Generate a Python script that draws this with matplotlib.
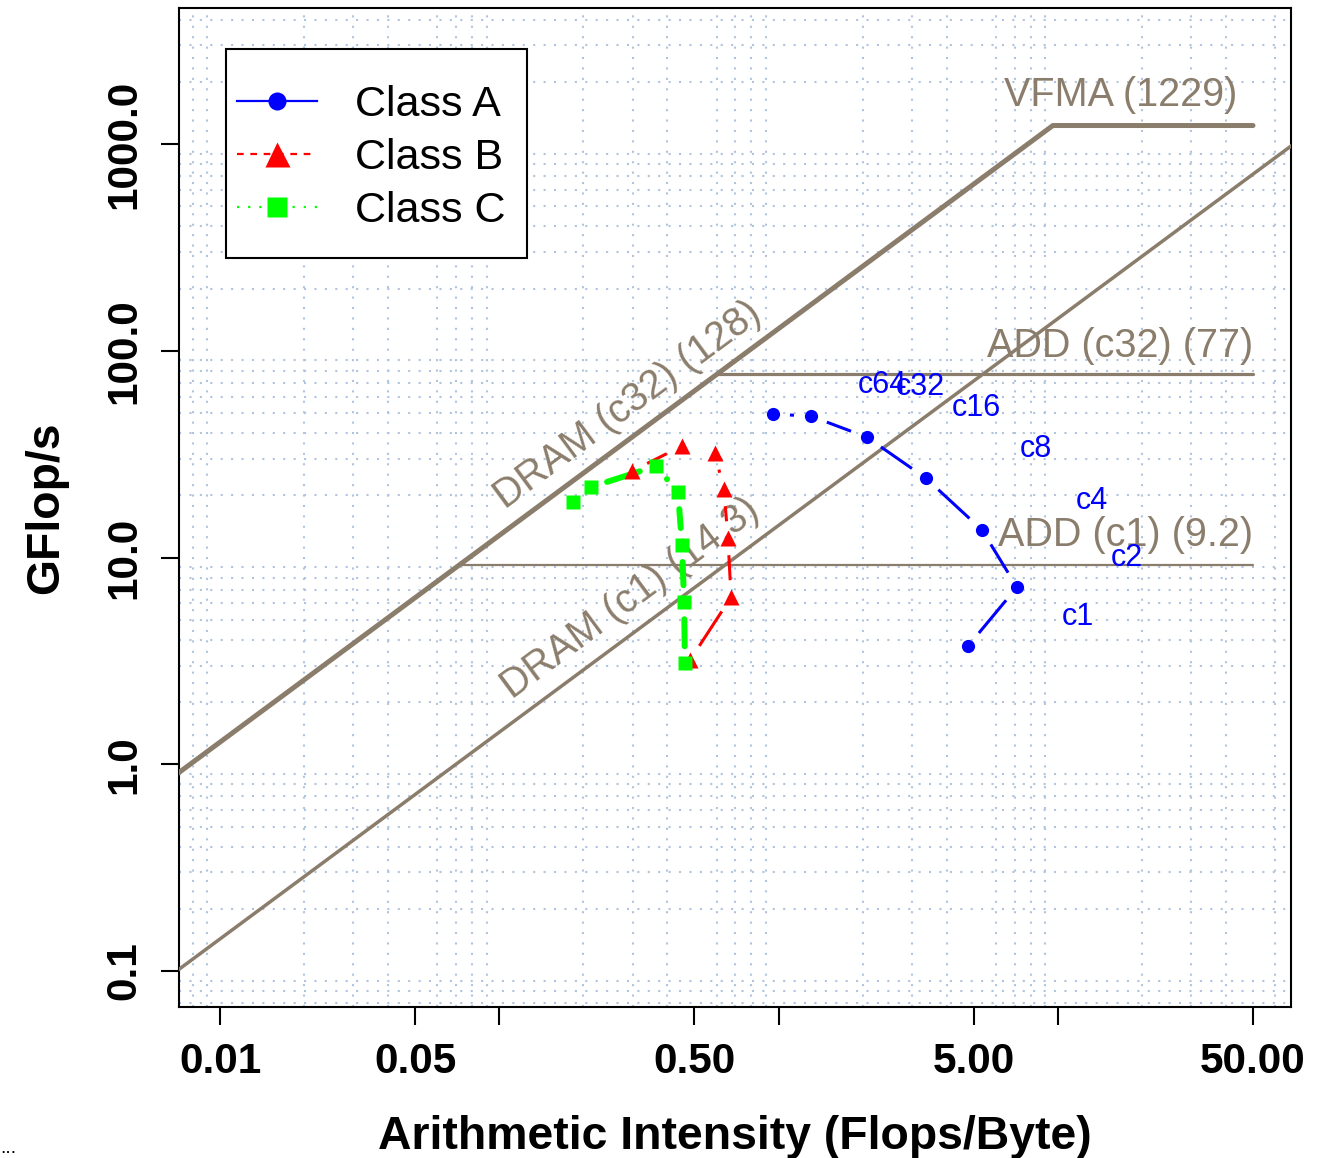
import numpy as np
import matplotlib
matplotlib.use("Agg")
import matplotlib.pyplot as plt
from matplotlib.lines import Line2D
from matplotlib.patches import Rectangle
from matplotlib.ticker import FixedLocator, FixedFormatter, LogLocator, NullFormatter

plt.rcParams['font.family'] = ['Liberation Sans', 'DejaVu Sans']

# ---------------- data ----------------
vfma_peak = 1229.0
add_c32_peak = 77.0
add_c1_peak = 9.2
dram_c32_bw = 128.0
dram_c1_bw = 14.3

classA_x = [0.955, 1.306, 2.073, 3.37, 5.35, 7.14, 4.77]
classA_y = [49.4, 48.3, 38.2, 24.2, 13.6, 7.19, 3.73]
classA_labels = ['c64', 'c32', 'c16', 'c8', 'c4', 'c2', 'c1']

classB_x = [0.2985, 0.451, 0.591, 0.637, 0.659, 0.676, 0.482]
classB_y = [26.2, 34.6, 32.0, 21.4, 12.4, 6.43, 3.19]

classC_x = [0.1837, 0.2128, 0.364, 0.4365, 0.451, 0.459, 0.462]
classC_y = [18.5, 21.9, 27.7, 20.7, 11.5, 6.08, 3.08]

x_ticks = [0.01, 0.05, 0.1, 0.5, 1, 5, 10, 50]
x_ticklabels = ['0.01', '0.05', '', '0.50', '', '5.00', '', '50.00']
y_ticks = [0.1, 1, 10, 100, 1000]
y_ticklabels = ['0.1', '1.0', '10.0', '100.0', '1000.0']

roof_color = '#8B7D6B'
grid_color = '#B0C4DE'

# ---------------- figure ----------------
fig = plt.figure(figsize=(13.4, 11.58), dpi=100)
ax = fig.add_axes([179/1340, 1-1007/1158, (1291-179)/1340, (1007-8)/1158])
ax.set_xscale('log')
ax.set_yscale('log')
ax.set_xlim(0.00713, 68.4)
ax.set_ylim(0.067, 4550)

# grid
ax.xaxis.set_minor_locator(LogLocator(base=10, subs=np.arange(1, 10)))
ax.yaxis.set_minor_locator(LogLocator(base=10, subs=np.arange(1, 10)))
ax.xaxis.set_minor_formatter(NullFormatter())
ax.yaxis.set_minor_formatter(NullFormatter())
ax.grid(True, which='minor', color=grid_color, linestyle=(0, (1, 4)), lw=1.5)
ax.grid(False, which='major')
ax.set_axisbelow(True)

ax.xaxis.set_major_locator(FixedLocator(x_ticks))
ax.xaxis.set_major_formatter(FixedFormatter(x_ticklabels))
ax.yaxis.set_major_locator(FixedLocator(y_ticks))
ax.yaxis.set_major_formatter(FixedFormatter(y_ticklabels))
ax.tick_params(which='major', length=13, width=1.5, direction='out', pad=12,
               labelsize=30.5)
ax.tick_params(which='minor', length=0)
for lab in ax.get_xticklabels() + ax.get_yticklabels():
    lab.set_fontweight('bold')
for lab in ax.get_yticklabels():
    lab.set_rotation(90)
    lab.set_va('center')
for sp in ax.spines.values():
    sp.set_linewidth(1.5)

# ---------------- rooflines ----------------
ridge_vfma = vfma_peak / dram_c32_bw
ax.plot([0.001, ridge_vfma, 50], [0.001*dram_c32_bw, vfma_peak, vfma_peak],
        color=roof_color, lw=3.6, solid_capstyle='round', solid_joinstyle='round', zorder=3)
ax.plot([0.001, 1000], [0.001*dram_c1_bw, 1000*dram_c1_bw],
        color=roof_color, lw=2.5, zorder=3)
ax.plot([add_c32_peak/dram_c32_bw, 50], [add_c32_peak, add_c32_peak],
        color=roof_color, lw=2.3, solid_capstyle='round', zorder=3)
ax.plot([add_c1_peak/dram_c32_bw, 50], [add_c1_peak, add_c1_peak],
        color=roof_color, lw=1.6, solid_capstyle='round', zorder=3)

roof_fs = 28.5
ax.annotate('VFMA (1229)', xy=(50, vfma_peak), xytext=(-11, 14), textcoords='offset points',
            ha='right', va='baseline', fontsize=roof_fs, color=roof_color)
ax.annotate('ADD (c32) (77)', xy=(50, add_c32_peak), xytext=(0, 12.5), textcoords='offset points',
            ha='right', va='baseline', fontsize=roof_fs, color=roof_color)
ax.annotate('ADD (c1) (9.2)', xy=(50, add_c1_peak), xytext=(0, 14), textcoords='offset points',
            ha='right', va='baseline', fontsize=roof_fs, color=roof_color)

# rotation angle of bandwidth lines in display space
p0 = ax.transData.transform((0.01, 0.01*dram_c1_bw))
p1 = ax.transData.transform((1.0, 1.0*dram_c1_bw))
ang = np.degrees(np.arctan2(p1[1]-p0[1], p1[0]-p0[0]))
ax.text(0.289, 54.6, 'DRAM (c32) (128)', rotation=ang, rotation_mode='anchor',
        ha='center', va='center', fontsize=roof_fs, color=roof_color)
ax.text(0.294, 6.36, 'DRAM (c1) (14.3)', rotation=ang, rotation_mode='anchor',
        ha='center', va='center', fontsize=roof_fs, color=roof_color)

# ---------------- measured series (R type="b": gaps around points) ----------------
def gapped_line(xs, ys, gap_px, **kw):
    pts = ax.transData.transform(np.column_stack([xs, ys]))
    inv = ax.transData.inverted()
    for a, b in zip(pts[:-1], pts[1:]):
        d = b - a
        L = np.hypot(*d)
        if L <= 2*gap_px:
            continue
        u = d / L
        s = inv.transform(np.vstack([a + u*gap_px, b - u*gap_px]))
        ax.plot(s[:, 0], s[:, 1], **kw)

gapped_line(classA_x, classA_y, 17, color='blue', lw=2.2, solid_capstyle='butt', zorder=4)
gapped_line(classB_x, classB_y, 17, color='red', lw=2.2, solid_capstyle='butt', zorder=4)
gapped_line(classC_x, classC_y, 17, color='#00FF00', lw=4.3, solid_capstyle='round', zorder=4)

ax.plot(classA_x, classA_y, 'o', color='blue', ms=9.5, mec='none', zorder=5)
ax.plot(classB_x, classB_y, '^', color='red', ms=12, mec='none', zorder=5)
ax.plot(classC_x, classC_y, 's', color='#00FF00', ms=10, mec='none', zorder=5)

for x, y, lab in zip(classA_x, classA_y, classA_labels):
    ax.annotate(lab, xy=(x, y), xytext=(79, 21), textcoords='offset points',
                ha='center', va='center', fontsize=22, color='blue', zorder=6)

# ---------------- legend ----------------
handles = [
    Line2D([], [], color='blue', lw=1.6, ls='-', marker='o', ms=13, mec='none'),
    Line2D([], [], color='red', lw=1.6, ls=(0, (3, 3)), marker='^', ms=18, mec='none'),
    Line2D([], [], color='#00FF00', lw=1.6, ls=(0, (1, 4)), marker='s', ms=14, mec='none'),
]
leg_box = Rectangle((0.04227, 0.7497), 0.3129-0.04227, 0.959-0.7497, transform=ax.transAxes,
                    facecolor='white', edgecolor='black', lw=1.5, zorder=9)
ax.add_patch(leg_box)
leg = ax.legend(handles, ['Class A', 'Class B', 'Class C'], loc='center left',
                bbox_to_anchor=(0.0522, 0.8499), fontsize=31, numpoints=1,
                handlelength=1.85, handletextpad=0.9, labelspacing=0.3,
                borderpad=0, borderaxespad=0, frameon=False)
leg.set_zorder(10)

# ---------------- labels ----------------
ax.set_xlabel('Arithmetic Intensity (Flops/Byte)', fontsize=33.4, fontweight='bold', labelpad=24)
ax.set_ylabel('GFlop/s', fontsize=33.4, fontweight='bold', labelpad=26)

fig.text(0.0, 0.004, '...', fontsize=14, color='black')

fig.savefig('out.png', dpi=100)
